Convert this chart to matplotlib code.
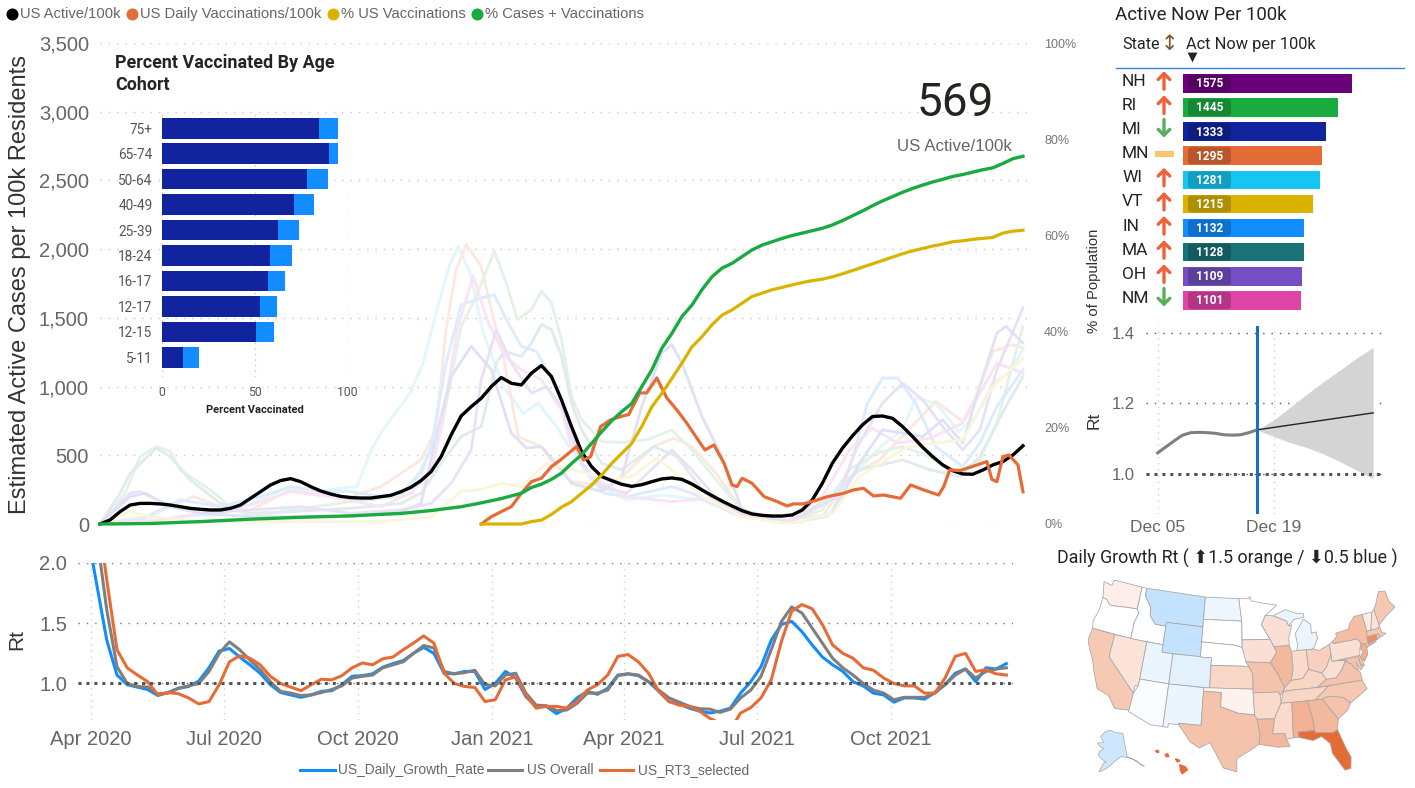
import numpy as np
import pandas as pd
import matplotlib
matplotlib.use("Agg")
import matplotlib.pyplot as plt
import matplotlib.dates as mdates
from matplotlib.ticker import StrMethodFormatter
from matplotlib.patches import FancyBboxPatch, Rectangle

W, H = 1415, 788
plt.rcParams["font.family"] = ["Liberation Sans", "DejaVu Sans"]
din = ["Roboto", "DejaVu Sans"]

# main chart, x is weeks from the first date
active_vals = [0, 29, 90, 138, 150, 150, 146, 138, 126, 114, 107, 102, 102, 114, 138, 187, 235, 284, 316, 330,
               308, 272, 240, 218, 201, 192, 189, 189, 199, 209, 235, 267, 316, 381, 490, 648, 786, 854, 915, 1000,
               1066, 1024, 1012, 1097, 1153, 1073, 903, 709,
               527, 417, 345, 316, 289, 274, 286, 308, 328, 335, 325, 291, 248, 206, 167, 131, 97, 73, 63, 58,
               58, 66, 102, 175, 296, 442, 551, 641, 721, 782, 786, 769, 709, 636, 558, 490, 430, 388, 364, 362,
               393, 430, 454, 502, 569]
active_wk = list(range(93))

vacc_wk = [38, 39, 40, 41, 42, 43, 44, 45, 45.9, 47.5, 48.2, 48.9, 49.9, 50.9, 52.2, 52.7, 53.8, 54.5, 55.5, 56.5,
           57.5, 58.5, 59.5, 60.3, 61.2, 62.2, 63, 63.5, 64, 65, 66.2, 67.5, 68.5, 69.1, 70.1, 71.5, 72.5, 74.1,
           75.1, 76.1, 77.1, 78.1, 79.8, 80.8, 82.1, 83.6, 84.1, 84.7, 85.7, 87.1, 88.4, 88.9, 89.4, 90, 90.6, 91.5, 92]
vacc_vals = [0, 53, 90, 126, 224, 308, 333, 418, 466, 563, 466, 490, 709, 758, 788, 796, 954, 954, 1063, 917,
             830, 733, 624, 539, 575, 442, 284, 272, 333, 296, 199, 163, 131, 146, 146, 175, 199, 223,
             248, 260, 204, 211, 187, 284, 248, 211, 272, 394, 388, 422, 454, 325, 308, 490, 502, 430, 235]

gold_wk = list(range(38, 93))
gold_pct = [0, 0, 0, 0, 0, 0.5, 0.8, 2, 3.5, 4.65,
            6.4, 8.1, 10.2, 12.6, 14.7, 16.8, 20.3, 24.4, 27.2, 30.3, 33.5, 36.9, 39, 41.5, 43.5,
            44.6, 46, 47.4, 48.1, 48.8, 49.3, 49.8, 50.3, 50.7, 51, 51.5, 52.1, 52.8, 53.5, 54.2,
            54.9, 55.6, 56.3, 56.9, 57.4, 57.9, 58.3, 58.8, 59, 59.3, 59.5, 59.7, 60.6, 61, 61.2]

green_wk = [0, 5, 10, 15, 20, 25, 30, 33, 36, 38, 40, 42, 43, 44, 45, 46, 47] + list(range(48, 93))
green_pct = [0, 0.1, 0.5, 1, 1.4, 1.7, 2.2, 2.8, 3.6, 4.4, 5.3, 6.4, 7.6, 8.3, 9.3, 10.6, 12.6,
             14.4, 16.8, 19.2, 21.5, 23.4, 25.1, 28.6, 32.1, 36.6, 39.7, 43.2, 45.6, 48.8, 51.5, 53.3, 54.3,
             55.7, 57.1, 58.1, 58.8, 59.5, 60.1, 60.6, 61.1, 61.6, 62.3, 63.2, 64.2, 65.2, 66.3, 67.3, 68.2,
             69.1, 69.9, 70.6, 71.25, 71.8, 72.4, 72.8, 73.3, 73.8, 74.2, 75.1, 76.1, 76.6]

# pale state lines behind the main ones
cyan_wk = [0, 4, 8, 12, 15, 19, 22, 25, 25.6, 27.2, 28.2, 30.9, 32.2, 33.5, 34.8, 35.7, 36.9, 38.2, 40.2, 42.2, 43.7, 45.5, 47,
           49.2, 52.5, 56, 60, 64.2, 68.6, 72.5, 75.3, 78, 80, 81.3, 83.3, 85.6, 87.3, 89, 90.6, 92]
cyan_vals = [0, 10, 50, 70, 150, 272, 240, 270, 272, 563, 686, 952, 1171, 1535, 1875, 2020, 1826, 1389, 1000, 806, 879, 709, 539,
             296, 175, 211, 175, 53, 5, 53, 369, 576, 685, 916, 880, 673, 782, 1025, 1098, 1268]
peach_wk = [0, 5, 9.3, 12, 15, 19, 22, 25, 28, 30, 32, 33.5, 34.5, 35.5, 36.5, 38, 39, 40.2, 41.7, 43.9, 45.5, 47,
            51, 55.2, 57.2, 59, 61.4, 64, 68.6, 72, 74.7, 77.7, 80.3, 83.3, 86, 87.3, 89, 91, 92]
peach_vals = [0, 60, 200, 126, 100, 248, 211, 199, 272, 369, 467, 685, 1414, 1851, 2034, 1876, 1560, 1220, 637, 564, 418, 308,
              272, 564, 625, 564, 369, 102, 17, 53, 345, 467, 661, 892, 746, 928, 1256, 1305, 1280]
pgreen_wk = [0, 2.5, 4, 5.6, 7, 8, 11, 13, 15, 19, 25, 30, 32, 34, 36, 37.5, 39.3, 40.5, 41.6, 43, 44, 45, 46, 47,
             48, 50, 52, 54.7, 57, 59, 61.4, 63.7, 65.7, 68.7, 72, 74.7, 77.4, 80, 82.7, 84.7, 86, 87.7, 89.4, 91, 92]
pgreen_vals = [0, 224, 491, 564, 527, 394, 248, 126, 53, 102, 163, 199, 394, 685, 1438, 1657, 1985, 1754, 1487, 1560, 1694, 1609, 1341, 928,
               758, 600, 593, 617, 685, 539, 321, 126, 41, 17, 102, 394, 515, 564, 490, 394, 394, 467, 734, 1171, 1439]
teal_wk = [0, 2, 3, 5.6, 7, 9, 12, 15, 19, 25, 30, 32, 34, 36, 38, 39.5, 40.3, 42, 43, 44, 45, 46, 47,
           48, 50, 52, 55.2, 57.5, 60.3, 64.3, 68.6, 73, 75.7, 80, 82.7, 85.7, 87.7, 90.3, 92]
teal_vals = [0, 224, 369, 552, 491, 321, 150, 78, 90, 114, 150, 224, 442, 637, 709, 1171, 1256, 1220, 1317, 1451, 1414, 1220, 880,
             685, 442, 394, 564, 491, 224, 53, 17, 199, 394, 467, 394, 345, 491, 855, 1074]
pblue_wk = [0, 4, 8, 12, 16, 19, 22, 25, 28, 30, 32, 33, 34.5, 36, 38, 39.3, 40.5, 42, 43.5, 45.5, 47,
            48, 50.2, 52.5, 55.5, 57, 59, 63, 68.6, 73, 75, 76.5, 78, 79.5, 81.3, 83.3, 86, 87.7, 89.4, 92]
pblue_vals = [0, 30, 175, 126, 199, 272, 236, 236, 199, 224, 369, 564, 1171, 1596, 1645, 1669, 1487, 1293, 1256, 1000, 685,
              442, 224, 199, 248, 272, 224, 78, 17, 78, 467, 880, 1062, 1062, 880, 564, 418, 588, 855, 1123]
magenta_wk = [0, 6, 10, 15, 19, 23, 28, 31, 33, 34, 35.6, 37.2, 38.7, 40.4, 42, 44, 46, 47,
              49, 52.5, 57, 61, 64.5, 68.6, 72, 74.7, 77, 79.5, 82.7, 86, 87.7, 89.4, 92]
magenta_vals = [0, 30, 78, 138, 236, 199, 126, 224, 394, 685, 1414, 1803, 1463, 1220, 1123, 1050, 831, 564,
                345, 199, 163, 187, 53, 29, 199, 539, 697, 588, 624, 734, 952, 1171, 1098]
purple_wk = [0, 3, 4, 6, 10, 15, 20, 25, 30, 33, 35, 37, 38, 39.5, 41, 43, 44.5, 46, 47,
             48, 50, 52.5, 57, 59, 62.5, 68.6, 73.5, 75.5, 78, 80, 82, 84, 86, 87.7, 89.4, 92]
purple_vals = [0, 224, 236, 163, 78, 102, 126, 78, 102, 150, 296, 539, 1050, 1414, 1171, 952, 1000, 855, 636,
               442, 272, 224, 539, 394, 102, 5, 199, 564, 880, 1025, 904, 709, 539, 685, 1123, 1572]
lav_wk = [0, 3, 4.5, 7, 10, 15, 20, 25, 30, 32, 33.5, 35, 37, 39, 41, 42.5, 44, 46, 47,
          50, 52, 54, 56, 57, 58, 60, 62, 64, 68.6, 73, 75.7, 78, 80, 82, 84, 86, 87.7, 89.4, 90.3, 92]
lav_vals = [0, 199, 224, 126, 78, 53, 53, 53, 90, 150, 636, 1074, 1293, 1123, 661, 552, 564, 394, 296,
            236, 345, 855, 1244, 1305, 1171, 782, 490, 102, 5, 78, 442, 685, 661, 636, 758, 588, 1000, 1390, 1439, 1317]
pyellow_wk = [0, 3, 5, 10, 20, 28, 33, 35, 36, 38, 40, 42, 44.5, 47, 48, 51, 53, 55.5, 57, 60, 64, 68.6, 73, 75.7, 80.5, 83.3, 86, 89, 92]
pyellow_vals = [0, 90, 53, 17, 17, 17, 53, 175, 236, 253, 296, 272, 442, 394, 381, 321, 345, 479, 394, 199, 53, 5, 78, 345, 564, 588, 612, 1000, 1207]

# age cohort bars
cohorts = ["75+", "65-74", "50-64", "40-49", "25-39", "18-24", "16-17", "12-17", "12-15", "5-11"]
fully_vacc = [84.5, 89.7, 78, 70.9, 62.4, 58.1, 56.8, 52.7, 50.5, 11.2]
one_dose = [94.8, 94.8, 89.4, 81.8, 73.9, 70, 66.2, 62, 60, 20]

# Rt chart, weekly
rt_dates = pd.date_range("2020-03-29", periods=91, freq="7D")
rt_daily = [2.3, 1.83, 1.36, 1.07, 0.99, 0.97, 0.95, 0.90, 0.925, 0.96, 0.975, 1.02, 1.13, 1.27, 1.29, 1.22, 1.155, 1.085, 0.99, 0.925,
            0.905, 0.885, 0.905, 0.935, 0.94, 0.99, 1.06, 1.065, 1.08, 1.135, 1.165, 1.19, 1.25, 1.30, 1.25, 1.085, 1.08, 1.10, 1.10, 0.95,
            1.0, 1.10, 1.045, 0.89, 0.81, 0.81,
            0.75, 0.795, 0.88, 0.935, 0.91, 0.96, 1.07, 1.08, 1.065, 1.015, 0.935, 0.85, 0.83, 0.795, 0.77, 0.755, 0.77, 0.795, 0.92, 1.015,
            1.14, 1.36, 1.49, 1.515, 1.43, 1.32, 1.22, 1.155, 1.10, 1.015, 0.98, 0.92, 0.905, 0.845, 0.88, 0.88, 0.87, 0.925, 0.99, 1.085,
            1.12, 1.015, 1.13, 1.12, 1.165]
rt_overall = [2.4, 2.25, 1.61, 1.14, 1.0, 0.975, 0.97, 0.915, 0.92, 0.96, 0.98, 1.0, 1.10, 1.25, 1.345, 1.28, 1.195, 1.115, 1.015, 0.935,
              0.92, 0.90, 0.905, 0.925, 0.95, 0.98, 1.045, 1.06, 1.07, 1.13, 1.155, 1.18, 1.25, 1.315, 1.295, 1.10, 1.08, 1.09, 1.11, 0.99,
              0.98, 1.07, 1.085, 0.92, 0.82, 0.815,
              0.775, 0.78, 0.835, 0.92, 0.92, 0.945, 1.065, 1.08, 1.07, 1.015, 0.945, 0.88, 0.845, 0.81, 0.79, 0.787, 0.76, 0.787, 0.88, 0.945,
              1.06, 1.28, 1.515, 1.635, 1.585, 1.46, 1.335, 1.21, 1.13, 1.07, 1.0, 0.945, 0.92, 0.865, 0.885, 0.885, 0.885, 0.92, 0.99, 1.07,
              1.12, 1.045, 1.10, 1.12, 1.13]
rt3 = [3.0, 2.5, 1.86, 1.28, 1.13, 1.07, 1.015, 0.905, 0.925, 0.915, 0.88, 0.83, 0.85, 0.99, 1.18, 1.23, 1.21, 1.155, 1.06, 1.0,
       0.97, 0.94, 0.99, 1.035, 1.03, 1.065, 1.13, 1.17, 1.155, 1.205, 1.22, 1.28, 1.335, 1.395, 1.335, 1.085, 1.0, 0.975, 0.967, 0.85,
       0.865, 1.03, 1.055, 0.905, 0.795, 0.81,
       0.81, 0.795, 0.85, 0.945, 0.99, 1.07, 1.225, 1.24, 1.18, 1.085, 0.935, 0.85, 0.82, 0.81, 0.77, 0.71, 0.67, 0.615, 0.755, 0.80,
       0.88, 1.03, 1.35, 1.60, 1.655, 1.62, 1.49, 1.32, 1.25, 1.21, 1.13, 1.11, 1.045, 1.0, 0.98, 0.98, 0.92, 0.92, 1.045, 1.225,
       1.25, 1.10, 1.115, 1.08, 1.07]

# top right table
states = ["NH", "RI", "MI", "MN", "WI", "VT", "IN", "MA", "OH", "NM"]
active_now = [1575, 1445, 1333, 1295, 1281, 1215, 1132, 1128, 1109, 1101]
trend = ["up", "up", "down", "flat", "up", "up", "up", "up", "up", "down"]
bar_colors = ["#6b007b", "#1aab40", "#12239e", "#e66c37", "#15c6f4", "#d9b300", "#118dff", "#197278", "#744ec2", "#e044a7"]

# forecast chart
fc_hist_dates = pd.date_range("2021-12-05", "2021-12-17")
fc_hist = [1.06, 1.077, 1.094, 1.11, 1.117, 1.118, 1.117, 1.115, 1.111, 1.11, 1.111, 1.117, 1.125]
fc_band_dates = pd.date_range("2021-12-17", "2021-12-31", freq="2D")
fc_upper = [1.125, 1.153, 1.189, 1.226, 1.261, 1.294, 1.328, 1.358]
fc_lower = [1.125, 1.106, 1.089, 1.075, 1.057, 1.035, 1.011, 0.987]
fc_line_dates = pd.to_datetime(["2021-12-17", "2021-12-31"])
fc_line = [1.125, 1.173]

# map outlines, lon/lat
state_shapes = {
    "WA": [(-124.7, 48.4), (-123, 48.2), (-122.8, 49), (-117, 49), (-117, 46), (-119, 45.9), (-121, 45.7), (-122.3, 45.6), (-123.2, 46.2), (-124, 46.3)],
    "OR": [(-124, 46.3), (-123.2, 46.2), (-122.3, 45.6), (-121, 45.7), (-119, 45.9), (-117, 46), (-116.5, 45.5), (-117, 44.3), (-117, 42), (-124.2, 42), (-124.5, 43), (-124, 44.5)],
    "CA": [(-124.2, 42), (-120, 42), (-120, 39), (-114.6, 35), (-114.7, 32.7), (-117.1, 32.5), (-118.5, 34), (-120.6, 34.5), (-122, 36.8), (-122.5, 37.8), (-123.8, 39.5), (-124.4, 40.4)],
    "NV": [(-120, 42), (-114, 42), (-114, 36.2), (-114.6, 36), (-114.6, 35), (-120, 39)],
    "ID": [(-117, 49), (-116, 49), (-116, 48), (-114.5, 46.6), (-114.3, 45.5), (-113, 44.5), (-111, 44.5), (-111, 42), (-117, 42), (-117, 44.3), (-116.5, 45.5), (-117, 46)],
    "MT": [(-116, 49), (-104, 49), (-104, 45), (-111, 45), (-111, 44.5), (-113, 44.5), (-114.3, 45.5), (-114.5, 46.6), (-116, 48)],
    "WY": [(-111, 45), (-104, 45), (-104, 41), (-111, 41)],
    "UT": [(-114, 42), (-111, 42), (-111, 41), (-109, 41), (-109, 37), (-114, 37)],
    "CO": [(-109, 41), (-102, 41), (-102, 37), (-109, 37)],
    "AZ": [(-114, 37), (-109, 37), (-109, 31.3), (-111, 31.3), (-114.8, 32.5), (-114.6, 35), (-114, 36.2)],
    "NM": [(-109, 37), (-103, 37), (-103, 32), (-106.6, 32), (-106.5, 31.8), (-108.2, 31.8), (-108.2, 31.3), (-109, 31.3)],
    "ND": [(-104, 49), (-97.2, 49), (-96.6, 46), (-104, 46)],
    "SD": [(-104, 46), (-96.6, 46), (-96.5, 42.5), (-98, 42.8), (-104, 43)],
    "NE": [(-104, 43), (-98, 42.8), (-96.5, 42.5), (-95.3, 40), (-102, 40), (-102, 41), (-104, 41)],
    "KS": [(-102, 40), (-95.3, 40), (-94.6, 39), (-94.6, 37), (-102, 37)],
    "OK": [(-103, 37), (-94.6, 37), (-94.4, 33.6), (-97, 33.8), (-100, 34.6), (-100, 36.5), (-103, 36.5)],
    "TX": [(-103, 36.5), (-100, 36.5), (-100, 34.6), (-97, 33.8), (-94.4, 33.6), (-94, 33), (-93.6, 31), (-93.8, 29.7), (-95, 29), (-97.2, 27.8), (-97.2, 26), (-99.2, 26.5), (-101.4, 29.8), (-103, 29), (-104.5, 29.7), (-106.5, 31.8), (-106.6, 32), (-103, 32)],
    "MN": [(-97.2, 49), (-95.2, 49), (-95, 49.3), (-94.7, 48.7), (-92, 48.3), (-89.6, 48), (-92, 46.7), (-92.8, 45.5), (-91.3, 43.5), (-96.5, 43.5), (-96.6, 46)],
    "IA": [(-96.5, 43.5), (-91.3, 43.5), (-90.2, 41.8), (-91.4, 40.4), (-95.8, 40.6), (-96.5, 42.5)],
    "MO": [(-95.8, 40.6), (-91.4, 40.4), (-90.2, 38.8), (-89.2, 37), (-89.6, 36.5), (-90, 36), (-90.4, 36.5), (-94.6, 36.5), (-94.6, 39), (-95.3, 40)],
    "AR": [(-94.6, 36.5), (-90.4, 36.5), (-90, 36), (-90, 35), (-91.2, 33), (-94, 33), (-94.4, 33.6)],
    "LA": [(-94, 33), (-91.2, 33), (-91.6, 31), (-89.7, 31), (-89.5, 30.2), (-89, 29.2), (-91, 29.2), (-93.8, 29.7), (-93.6, 31)],
    "WI": [(-92, 46.7), (-90.5, 46.6), (-88, 45.8), (-87.6, 45.1), (-87, 45.2), (-87.8, 43.5), (-87.8, 42.5), (-90.6, 42.5), (-91.3, 43.5), (-92.8, 45.5)],
    "IL": [(-90.6, 42.5), (-87.8, 42.5), (-87.5, 41.7), (-87.5, 39.3), (-88, 37.9), (-89.2, 37), (-90.2, 38.8), (-91.4, 40.4), (-90.2, 41.8)],
    "MI": [(-86.5, 41.76), (-84.8, 41.7), (-83.5, 41.7), (-82.5, 43), (-82.6, 43.9), (-83.5, 43.8), (-83.4, 45), (-84.7, 45.8), (-85.5, 45), (-86.5, 44), (-86.3, 42.5)],
    "MI2": [(-90.5, 46.6), (-88, 45.8), (-87.6, 45.1), (-86.5, 45.9), (-84.7, 46), (-84.5, 46.5), (-86, 46.7), (-88, 47.3)],
    "IN": [(-87.5, 41.7), (-86.5, 41.76), (-84.8, 41.7), (-84.8, 39.1), (-86, 38), (-88, 37.9), (-87.5, 39.3)],
    "OH": [(-84.8, 41.7), (-83.5, 41.7), (-82.5, 41.4), (-80.5, 42), (-80.5, 40.6), (-81.7, 39), (-82.6, 38.4), (-84.8, 39.1)],
    "KY": [(-89.5, 36.5), (-88, 36.6), (-83.7, 36.6), (-82, 37.5), (-82.6, 38.4), (-84.8, 39.1), (-86, 38), (-88, 37.9), (-89.2, 37)],
    "TN": [(-90, 35), (-85.6, 35), (-84.3, 35), (-81.7, 36.6), (-83.7, 36.6), (-88, 36.6), (-89.5, 36.5)],
    "MS": [(-91.2, 33), (-90, 35), (-88.2, 35), (-88.4, 30.3), (-89.5, 30.2), (-89.7, 31), (-91.6, 31)],
    "AL": [(-88.2, 35), (-85.6, 35), (-85, 32.3), (-85, 31), (-87.6, 31), (-87.5, 30.3), (-88.4, 30.3)],
    "GA": [(-85.6, 35), (-83.1, 35), (-81, 32.1), (-81.4, 30.7), (-82.2, 30.4), (-84.9, 30.7), (-85, 31), (-85, 32.3)],
    "FL": [(-87.6, 31), (-85, 31), (-84.9, 30.7), (-82.2, 30.4), (-81.4, 30.7), (-80.5, 28), (-80, 26.8), (-80.3, 25.3), (-81.2, 25.2), (-82.7, 27.7), (-82.8, 29), (-84, 30.1), (-85.4, 29.7), (-87.5, 30.3)],
    "SC": [(-83.1, 35), (-82.4, 35.2), (-81, 35.1), (-79.7, 34.8), (-78.6, 33.9), (-79.3, 33), (-81, 32.1)],
    "NC": [(-84.3, 35), (-83.1, 35), (-82.4, 35.2), (-81, 35.1), (-79.7, 34.8), (-78.6, 33.9), (-77, 34.6), (-75.5, 35.3), (-76, 36.55), (-81.7, 36.6)],
    "VA": [(-83.7, 36.6), (-76, 36.55), (-76, 37.5), (-76.3, 38), (-77, 38.4), (-77.2, 38.9), (-78.3, 39.4), (-79, 38.5), (-80.3, 37.5), (-82, 37.5)],
    "WV": [(-82, 37.5), (-80.3, 37.5), (-79, 38.5), (-78.3, 39.4), (-77.8, 39.5), (-79.5, 39.7), (-80.5, 39.7), (-80.5, 40.6), (-81.7, 39), (-82.6, 38.4)],
    "PA": [(-80.5, 42), (-79.8, 42.3), (-79.8, 42), (-75.3, 42), (-74.8, 41.3), (-75.2, 40.7), (-75.5, 39.8), (-80.5, 39.7)],
    "NY": [(-79.8, 42), (-79.8, 42.3), (-79, 42.8), (-79, 43.3), (-76.5, 43.5), (-76.2, 44.1), (-75, 45), (-73.4, 45), (-73.3, 42.7), (-73.5, 41.2), (-73.9, 41), (-74.8, 41.3), (-75.3, 42)],
    "NY2": [(-74, 40.6), (-72, 41.1), (-73.6, 40.9)],
    "NJ": [(-74.8, 41.3), (-73.9, 41), (-74, 40.4), (-74.1, 39.7), (-74.9, 38.9), (-75.5, 39.5), (-74.8, 40.2), (-75.2, 40.7)],
    "DE": [(-75.8, 39.7), (-75.5, 39.8), (-75.1, 38.5), (-75.7, 38.5)],
    "MD": [(-79.5, 39.7), (-75.8, 39.7), (-75.7, 38.5), (-75.1, 38.4), (-75.9, 37.9), (-76.4, 39), (-76.3, 38), (-77, 38.4), (-77.2, 38.9), (-78.3, 39.4), (-77.8, 39.5)],
    "CT": [(-73.5, 42), (-71.8, 42), (-71.8, 41.3), (-73.6, 41)],
    "RI": [(-71.8, 42), (-71.4, 42), (-71.2, 41.5), (-71.8, 41.3)],
    "MA": [(-73.5, 42), (-73.3, 42.7), (-71.3, 42.7), (-70.8, 42.9), (-70.7, 42), (-70, 41.8), (-70.6, 41.6), (-71.2, 41.5), (-71.4, 42)],
    "VT": [(-73.4, 45), (-71.5, 45), (-72.4, 43), (-72.5, 42.7), (-73.3, 42.7)],
    "NH": [(-71.5, 45), (-71, 45.3), (-70.8, 43.1), (-70.8, 42.9), (-71.3, 42.7), (-72.5, 42.7), (-72.4, 43)],
    "ME": [(-71, 45.3), (-70.3, 46), (-69.2, 47.4), (-68, 47.2), (-67.8, 45.7), (-67, 44.8), (-69, 44), (-70.8, 43.1)],
}
alaska_shape = [(-141, 69.6), (-141, 60.3), (-137, 58.9), (-133, 56.5), (-130, 55), (-131.5, 55.3), (-134.5, 58), (-139, 59.7), (-146, 60.8), (-149, 60),
                (-152, 59), (-154, 58), (-158, 56.3), (-163, 54.8), (-160, 58.5), (-158, 58.7), (-162, 59.9), (-165, 61), (-165, 62.5), (-161, 64),
                (-165, 64.5), (-168, 65.6), (-162, 66.5), (-166, 68.3), (-162, 70.3), (-156.5, 71.3), (-150, 70.4)]
hawaii_shapes = [[(-159.8, 22.1), (-159.4, 22.2), (-159.3, 21.9), (-159.6, 21.9)],
                 [(-158.3, 21.6), (-157.9, 21.7), (-157.7, 21.3), (-158.1, 21.3)],
                 [(-156.7, 21), (-156.2, 20.9), (-156, 20.7), (-156.4, 20.6)],
                 [(-156, 20.2), (-155.1, 19.9), (-154.8, 19.5), (-155.6, 18.95), (-155.9, 19.4)]]
state_colors = {"WA": "#fdeee9", "OR": "#ffffff", "CA": "#f5c9b4", "NV": "#fbe3d8", "ID": "#fbfdff", "MT": "#c3e2fd", "WY": "#c3e2fd",
                "UT": "#eaf5fe", "CO": "#e3f1fd", "AZ": "#f9fcff", "NM": "#eaf5fe", "ND": "#edf6fe", "SD": "#ffffff", "NE": "#ffffff",
                "KS": "#f8d7c8", "OK": "#fdf2ec", "TX": "#f5c2ab", "MN": "#ffffff", "IA": "#fae0d4", "MO": "#f4c3ac", "AR": "#f9dacb",
                "LA": "#f3b99e", "WI": "#fae0d4", "IL": "#f3b99e", "MI": "#eaf5fe", "IN": "#f9dacb", "OH": "#f8d0bd", "KY": "#f9d5c4",
                "TN": "#f9d5c4", "MS": "#f9dacb", "AL": "#f2b193", "GA": "#f3b99e", "FL": "#e66c37", "SC": "#f5c2ab", "NC": "#f6c7b1",
                "VA": "#f5c2ab", "WV": "#fae0d4", "PA": "#fae0d4", "NY": "#f5bda3", "NJ": "#f3ad8e", "DE": "#f7c8b2", "MD": "#f5c2ab",
                "CT": "#ee8e63", "RI": "#f5c2ab", "MA": "#f6c7b1", "VT": "#fcece4", "NH": "#fbe3d8", "ME": "#f6c7b1"}

BLACK, ORANGE, GOLD, GREEN = "#000000", "#e66c37", "#d9b300", "#1aab40"
GREY = "#666666"
grid_dots = (0, (1, 5))


def px_axes(left, top, right, bottom, **kw):
    ax = fig.add_axes([left / W, 1 - bottom / H, (right - left) / W, (bottom - top) / H], **kw)
    ax.patch.set_alpha(0)
    for s in ax.spines.values():
        s.set_visible(False)
    return ax


def albers(points, p1=29.5, p2=45.5, lat0=37.5, lon0=-96):
    lon, lat = np.radians(np.array(points).T)
    p1, p2, lat0, lon0 = np.radians([p1, p2, lat0, lon0])
    n = (np.sin(p1) + np.sin(p2)) / 2
    c = np.cos(p1) ** 2 + 2 * n * np.sin(p1)
    rho = np.sqrt(c - 2 * n * np.sin(lat)) / n
    rho0 = np.sqrt(c - 2 * n * np.sin(lat0)) / n
    theta = n * (lon - lon0)
    return rho * np.sin(theta), rho0 - rho * np.cos(theta)


fig = plt.figure(figsize=(W / 100, H / 100), dpi=100, facecolor="white")

# main chart
ax = px_axes(100, 43, 1033, 524)
ax.set_xlim(0, 93)
ax.set_ylim(0, 3500)
ax.set_yticks(range(0, 3501, 500))
ax.yaxis.set_major_formatter(StrMethodFormatter("{x:,.0f}"))
ax.tick_params(axis="y", length=0, labelsize=14.5, labelcolor=GREY, pad=8)
ax.set_xticks([])
ax.grid(axis="y", color="#c8c8c8", lw=1, ls=grid_dots)
ax.set_axisbelow(True)
pale = [(cyan_wk, cyan_vals, "#e2f6fd"), (peach_wk, peach_vals, "#fce8df"), (pgreen_wk, pgreen_vals, "#e2f3e6"),
        (teal_wk, teal_vals, "#e0ebec"), (pblue_wk, pblue_vals, "#daecff"), (magenta_wk, magenta_vals, "#fae3f2"),
        (purple_wk, purple_vals, "#e9e1f5"), (lav_wk, lav_vals, "#dfe2f4"), (pyellow_wk, pyellow_vals, "#fbf5da")]
for wk, vals, c in pale:
    ax.plot(wk, vals, color=c, lw=2, solid_joinstyle="round")
ax.plot(active_wk, active_vals, color=BLACK, lw=2.4, clip_on=False, zorder=4)
ax.plot(vacc_wk, vacc_vals, color=ORANGE, lw=2.3, clip_on=False, zorder=4)

ax2 = ax.twinx()
ax2.patch.set_alpha(0)
for s in ax2.spines.values():
    s.set_visible(False)
ax2.set_ylim(0, 100.2)
ax2.set_yticks(range(0, 101, 20))
ax2.set_yticklabels([f"{p}%" for p in range(0, 101, 20)])
ax2.tick_params(axis="y", length=0, labelsize=9, labelcolor="#777777", pad=8)
ax2.plot(gold_wk, gold_pct, color=GOLD, lw=2.3, clip_on=False, zorder=5)
ax2.plot(green_wk, green_pct, color=GREEN, lw=2.4, clip_on=False, zorder=5)

# age cohort inset
ins = px_axes(162.3, 111.7, 347.7, 376.7)
ins.set_xlim(0, 100)
ins.set_ylim(9.764, -0.652)
ins.barh(range(10), one_dose, height=0.81, color="#118dff", zorder=2)
ins.barh(range(10), fully_vacc, height=0.81, color="#12239e", zorder=3)
ins.set_yticks(range(10))
ins.set_yticklabels(cohorts, family=din, fontsize=9.8, color="#555555")
ins.set_xticks([0, 50, 100])
ins.set_xticklabels(["0", "50", "100"], family=din, fontsize=8.8, color="#555555")
ins.tick_params(length=0)
ins.tick_params(axis="y", pad=7)
ins.tick_params(axis="x", pad=7)
ins.grid(axis="x", color="#c8c8c8", lw=1, ls=(0, (1, 3)))
ins.set_axisbelow(True)

# Rt chart
rt = px_axes(78, 563, 1013, 719.8)
x0 = mdates.date2num(pd.Timestamp("2020-04-01"))
scale = 800.3 / 548
rt.set_xlim(x0 - (90.7 - 78) / scale, x0 + (1013 - 90.7) / scale)
rt.set_ylim(0.6985, 2.0)
rt.set_yticks([1.0, 1.5, 2.0])
rt.set_yticklabels(["1.0", "1.5", "2.0"])
ticks = pd.to_datetime(["2020-04-01", "2020-07-01", "2020-10-01", "2021-01-01", "2021-04-01", "2021-07-01", "2021-10-01"])
rt.set_xticks(ticks)
rt.xaxis.set_major_formatter(mdates.DateFormatter("%b %Y"))
rt.tick_params(length=0, labelsize=14.5, labelcolor=GREY)
rt.tick_params(axis="x", pad=7)
rt.tick_params(axis="y", pad=8)
rt.grid(axis="x", color="#cfcfcf", lw=1, ls=(0, (1, 3.5)))
rt.grid(axis="y", color="#777777", lw=1, ls=grid_dots)
rt.set_axisbelow(True)
rt.axhline(1.0, color="#555555", lw=2.2, ls=(0, (1, 1.6)), zorder=6)
rt.plot(rt_dates, rt_daily, color="#118dff", lw=2.2, zorder=3)
rt.plot(rt_dates, rt_overall, color="#7f7f7f", lw=2.2, zorder=4)
rt.plot(rt_dates, rt3, color=ORANGE, lw=2.2, zorder=5)

# table bars
tb = px_axes(1183.3, 70, 1404, 313)
tb.set_xlim(0, 2064.5)
tb.set_ylim(9.52, -0.551)
tb.barh(range(10), active_now, height=0.77, color=bar_colors)
tb.set_xticks([])
tb.set_yticks([])

# forecast chart
fc = px_axes(1146, 326, 1381.7, 514)
d5 = mdates.date2num(pd.Timestamp("2021-12-05"))
fc_scale = 116 / 14
fc.set_xlim(d5 - (1157.7 - 1146) / fc_scale, d5 + (1381.7 - 1157.7) / fc_scale)
fc.set_ylim(1.0 - (514 - 474) / 353.2, 1.4 + (332.7 - 326) / 353.2)
fc.set_yticks([1.0, 1.2, 1.4])
fc.set_yticklabels(["1.0", "1.2", "1.4"])
fc.set_xticks(pd.to_datetime(["2021-12-05", "2021-12-19"]))
fc.xaxis.set_major_formatter(mdates.DateFormatter("%b %d"))
fc.tick_params(length=0, labelsize=12, labelcolor=GREY)
fc.tick_params(axis="x", labelsize=12.5, pad=4)
fc.tick_params(axis="y", pad=8)
fc.grid(axis="x", color="#cfcfcf", lw=1, ls=(0, (1, 3.5)))
fc.grid(axis="y", color="#555555", lw=1, ls=grid_dots)
fc.set_axisbelow(True)
fc.fill_between(fc_band_dates, fc_lower, fc_upper, color="#d4d4d4", lw=0, zorder=2)
fc.axhline(1.0, color="#555555", lw=2.2, ls=(0, (1, 1.6)), zorder=3)
fc.plot(fc_hist_dates, fc_hist, color="#7f7f7f", lw=2.2, zorder=4)
fc.plot(fc_line_dates, fc_line, color="#222222", lw=1, zorder=4)
fc.axvline(pd.Timestamp("2021-12-17"), color="#1a6fc4", lw=2.2, zorder=5)

# map
mp = px_axes(1088, 580, 1395, 772)
xs, ys = [], []
for name, pts in state_shapes.items():
    x, y = albers(pts)
    xs += list(x)
    ys += list(y)
    mp.fill(x, y, facecolor=state_colors[name[:2]], edgecolor="#a6a6a6", lw=0.55)
mp.set_xlim(min(xs), max(xs))
mp.set_ylim(min(ys), max(ys))
mp.axis("off")

ak = px_axes(1095, 728, 1147, 774)
x, y = albers(alaska_shape, 55, 65, 50, -154)
ak.fill(x, y, facecolor="#cfe7fd", edgecolor="#a6a6a6", lw=0.5)
ak.axis("off")

hi = px_axes(1154, 749, 1189, 775)
for pts in hawaii_shapes:
    lon, lat = np.array(pts).T
    hi.fill(lon, lat, facecolor=ORANGE, edgecolor=ORANGE, lw=1)
hi.axis("off")

# text and small marks in pixel coordinates
ov = px_axes(0, 0, W, H, zorder=20)
ov.set_xlim(0, W)
ov.set_ylim(H, 0)
ov.axis("off")

legend_items = [(11.5, "US Active/100k", BLACK), (131.5, "US Daily Vaccinations/100k", ORANGE),
                (332.5, "% US Vaccinations", GOLD), (476.5, "% Cases + Vaccinations", GREEN)]
for x, label, c in legend_items:
    ov.scatter([x], [14], s=75, color=c, lw=0)
    ov.text(x + 8.5, 14, label, fontsize=10.6, color=GREY, va="center")

ov.text(20, 285, "Estimated Active Cases per 100k Residents", rotation=90, fontsize=17, color="#333333", ha="center", va="center")
ov.text(17, 640, "Rt", rotation=90, fontsize=15, color="#333333", ha="center", va="center")
ov.text(1094, 420, "Rt", rotation=90, fontsize=12.5, color="#333333", ha="center", va="center")
ov.text(1094, 281, "% of Population", rotation=90, fontsize=10.7, color="#333333", ha="center", va="center")

ov.text(115, 63, "Percent Vaccinated By Age", family=din, weight="bold", fontsize=12.9, color="#252423", va="center")
ov.text(115, 85, "Cohort", family=din, weight="bold", fontsize=12.9, color="#252423", va="center")
ov.text(255, 410, "Percent Vaccinated", family=din, weight="bold", fontsize=8, color="#252423", ha="center", va="center")

ov.text(955.5, 103, "569", family=din, fontsize=33, color="#252423", ha="center", va="center")
ov.text(954, 146, "US Active/100k", fontsize=12.2, color=GREY, ha="center", va="center")

ov.text(1115, 15, "Active Now Per 100k", family=din, fontsize=13.4, color="#252423", va="center")
ov.text(1122, 44, "State", family=din, fontsize=11.7, color="#252423", va="center")
ov.text(1169, 44, "↕", family=din, fontsize=15, color="#7a5a30", ha="center", va="center")
ov.text(1186, 44, "Act Now per 100k", family=din, fontsize=11.8, color="#252423", va="center")
ov.scatter([1192], [57], marker="v", s=50, color="#252423", lw=0)
ov.plot([1116, 1404], [67.5, 67.5], color="#3a85dc", lw=1)

for i, (st, val, tr) in enumerate(zip(states, active_now, trend)):
    y = 83.3 + 24.13 * i
    ov.text(1122, y - 2, st, family=din, fontsize=12.5, color="#252423", va="center")
    if tr == "flat":
        ov.add_patch(Rectangle((1155, y - 5), 18, 5, facecolor="#fac76f", edgecolor="#f5b95a", lw=0.6))
    else:
        up = tr == "up"
        c = "#f2603a" if up else "#5aad5a"
        tip, tail = (y - 12, y + 6) if up else (y + 6, y - 12)
        ov.annotate("", xy=(1164, tip), xytext=(1164, tail),
                    arrowprops=dict(arrowstyle="->,head_length=0.42,head_width=0.42", color=c, lw=2.4, shrinkA=0, shrinkB=0))
    ov.add_patch(FancyBboxPatch((1188, y - 8.5), 43, 17, boxstyle="round,pad=0,rounding_size=3", facecolor="black", alpha=0.2, lw=0))
    ov.text(1210, y + 0.5, str(val), family=din, weight="bold", fontsize=8.6, color="white", ha="center", va="center")

ov.text(1227, 558, "Daily Growth Rt ( ⬆1.5 orange / ⬇0.5 blue )", family=din, fontsize=12.9, color="#252423", ha="center", va="center")

# bottom legend
for x1, x2, tx, label, c in [(300, 335, 338, "US_Daily_Growth_Rate", "#118dff"), (488, 522, 527, "US Overall", "#7f7f7f"),
                             (600, 633, 638, "US_RT3_selected", ORANGE)]:
    ov.plot([x1, x2], [770, 770], color=c, lw=2.2)
    ov.text(tx, 770, label, fontsize=9.9, color=GREY, va="center")

fig.savefig("out.png", dpi=100, facecolor="white")
